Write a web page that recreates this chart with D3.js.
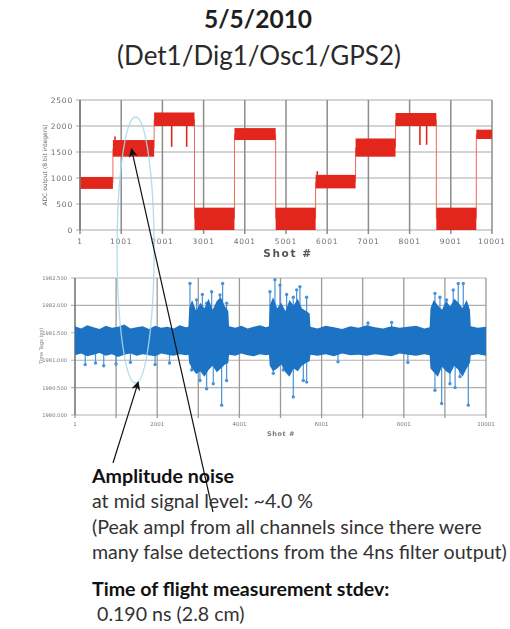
<!DOCTYPE html>
<html>
<head>
<meta charset="utf-8">
<script src="https://cdn.jsdelivr.net/npm/d3@7"></script>
<style>
  html, body { margin: 0; padding: 0; background: #fff; }
  svg { display: block; }
</style>
</head>
<body>
<svg id="chart" width="510" height="629"></svg>
<script>
// ---------- ADC amplitude per shot (upper panel) ----------
const shotTicks = [1, 1001, 2001, 3001, 4001, 5001, 6001, 7001, 8001, 9001, 10001];
const adcTicks = [0, 500, 1000, 1500, 2000, 2500];
const segStart = [1, 800, 1800, 2780, 3750, 4750, 5720, 6690, 7660, 8650, 9620];
const segEnd   = [800, 1800, 2780, 3750, 4750, 5720, 6690, 7660, 8650, 9620, 10001];
const segLow   = [790, 1410, 2000, 0, 1730, 0, 800, 1410, 2000, 0, 1750];
const segHigh  = [1020, 1730, 2260, 430, 1960, 430, 1060, 1760, 2250, 430, 1930];
const adcSpikeShot  = [850, 2226, 2590, 5760, 8252, 8414];
const adcSpikeValue = [1800, 1600, 1600, 1130, 1635, 1640];

// ---------- Time tags per shot (lower panel) ----------
const tofTicks = [1980.0, 1980.5, 1981.0, 1981.5, 1982.0, 1982.5];
const tofShotLabels = [1, 2001, 4001, 6001, 8001, 10001];
const tofEnvShot = [1,150,300,450,600,750,900,1050,1200,1350,1500,1650,1800,1950,2100,2250,2400,2550,2700,2760,
  2780,2850,2950,3050,3150,3250,3350,3450,3550,3650,3730,
  3750,3900,4050,4200,4350,4500,4650,4720,
  4740,4820,4920,5020,5120,5220,5320,5420,5520,5620,5710,
  5730,5900,6100,6300,6500,6700,6900,7100,7300,7500,7700,7900,8100,8300,8500,8630,
  8650,8730,8830,8930,9030,9130,9230,9330,9430,9530,9610,
  9630,9800,10001];
const tofEnvHigh = [1981.62,1981.58,1981.64,1981.60,1981.57,1981.63,1981.59,1981.61,1981.65,1981.58,1981.60,1981.62,1981.57,1981.63,1981.59,1981.61,1981.58,1981.64,1981.60,1981.61,
  1981.95,1982.10,1981.90,1982.05,1981.95,1982.12,1981.92,1982.08,1982.15,1981.98,1981.90,
  1981.62,1981.59,1981.63,1981.58,1981.61,1981.64,1981.60,1981.62,
  1982.00,1982.15,1981.95,1982.05,1981.90,1982.10,1982.00,1982.12,1981.95,1981.90,1981.85,
  1981.61,1981.58,1981.63,1981.60,1981.57,1981.62,1981.59,1981.64,1981.60,1981.58,1981.62,1981.59,1981.61,1981.63,1981.58,1981.60,
  1981.95,1982.10,1982.00,1981.92,1982.08,1981.98,1982.12,1982.05,1981.95,1982.10,1981.92,
  1981.62,1981.59,1981.61];
const tofEnvLow = [1981.09,1981.12,1981.07,1981.10,1981.13,1981.08,1981.11,1981.06,1981.10,1981.12,1981.08,1981.11,1981.09,1981.07,1981.12,1981.10,1981.08,1981.11,1981.09,1981.10,
  1980.95,1980.85,1980.75,1980.80,1980.70,1980.82,1980.90,1980.78,1980.85,1980.92,1980.95,
  1981.10,1981.08,1981.12,1981.09,1981.07,1981.11,1981.09,1981.10,
  1980.90,1980.80,1980.85,1980.92,1980.78,1980.70,1980.85,1980.80,1980.90,1980.95,1980.98,
  1981.10,1981.08,1981.11,1981.07,1981.12,1981.09,1981.10,1981.08,1981.11,1981.09,1981.07,1981.12,1981.10,1981.08,1981.11,1981.09,
  1980.85,1980.78,1980.70,1980.88,1980.80,1980.75,1980.90,1980.82,1980.70,1980.85,1980.95,
  1981.09,1981.11,1981.08];
const tofSpikeShot = [2798,2960,3204,3326,3528,3593,3690,2839,3041,3204,3365,3569,3690,3100,
  4745,4866,4988,5312,5394,5474,5637,4826,5069,5312,5556,5637,5150,
  8759,8881,9043,9204,9326,9448,8759,8922,9124,9367,9570,9250,
  250,500,700,1000,1350,1950,2300,6400,7129,7705,8100];
const tofSpikeValue = [1982.40,1982.10,1982.04,1982.25,1982.19,1982.40,1982.04,1980.82,1980.63,1980.48,1980.57,1980.18,1980.63,1982.20,
  1982.25,1982.47,1982.37,1982.15,1982.28,1982.34,1982.15,1980.76,1980.82,1980.33,1980.63,1980.60,1982.20,
  1982.22,1982.15,1982.10,1982.28,1982.40,1982.40,1980.45,1980.21,1980.57,1980.70,1980.18,1980.50,
  1980.92,1980.95,1980.90,1980.93,1980.96,1980.92,1980.95,1980.97,1981.68,1981.69,1980.96];
const tofCentre = 1981.36;

const RED = "#e2261f", BLUE = "#1f73c4", BLUE_LIGHT = "#4a93d6";
const svg = d3.select("#chart");
const defs = svg.append("defs");
defs.append("filter").attr("id", "soft").attr("x", "-5%").attr("y", "-5%").attr("width", "110%").attr("height", "110%")
  .append("feGaussianBlur").attr("stdDeviation", 0.55);
defs.append("filter").attr("id", "softer").attr("x", "-20%").attr("y", "-20%").attr("width", "140%").attr("height", "140%")
  .append("feGaussianBlur").attr("stdDeviation", 0.75);
defs.append("marker").attr("id", "head").attr("viewBox", "0 0 10 10")
  .attr("refX", 9).attr("refY", 5).attr("markerWidth", 9).attr("markerHeight", 9)
  .attr("markerUnits", "userSpaceOnUse").attr("orient", "auto")
  .append("path").attr("d", "M0,0 L10,5 L0,10 L3,5 Z").attr("fill", "#111");

// ---------- upper panel ----------
const xTop = d3.scaleLinear().domain([1, 10001]).range([80, 492]);
const yTop = d3.scaleLinear().domain([0, 2500]).range([230, 100]);
const adcPanel = svg.append("g").attr("filter", "url(#soft)");

adcPanel.append("g").selectAll("line").data(adcTicks).join("line")
  .attr("x1", 76).attr("x2", xTop(10001)).attr("y1", d => yTop(d)).attr("y2", d => yTop(d))
  .attr("stroke", "#a9a9a9").attr("stroke-width", 1.2);
adcPanel.append("g").selectAll("line").data(shotTicks).join("line")
  .attr("x1", d => xTop(d)).attr("x2", d => xTop(d)).attr("y1", yTop(2500)).attr("y2", yTop(0) + 4)
  .attr("stroke", "#8c8c8c").attr("stroke-width", 1.5);

// transitions between levels
adcPanel.append("g").selectAll("line").data(d3.range(1, segStart.length)).join("line")
  .attr("x1", i => xTop(segStart[i])).attr("x2", i => xTop(segStart[i]))
  .attr("y1", i => yTop((segLow[i - 1] + segHigh[i - 1]) / 2))
  .attr("y2", i => yTop((segLow[i] + segHigh[i]) / 2))
  .attr("stroke", "#ee6a60").attr("stroke-width", 1);
// level bands
adcPanel.append("g").selectAll("rect").data(d3.range(segStart.length)).join("rect")
  .attr("x", i => xTop(segStart[i])).attr("width", i => xTop(segEnd[i]) - xTop(segStart[i]))
  .attr("y", i => yTop(segHigh[i])).attr("height", i => yTop(segLow[i]) - yTop(segHigh[i]))
  .attr("fill", RED);
// isolated excursions
adcPanel.append("g").selectAll("line").data(d3.range(adcSpikeShot.length)).join("line")
  .attr("x1", i => xTop(adcSpikeShot[i])).attr("x2", i => xTop(adcSpikeShot[i]))
  .attr("y1", i => {
    const s = segStart.findIndex((v, k) => adcSpikeShot[i] >= v && adcSpikeShot[i] < segEnd[k]);
    return yTop(adcSpikeValue[i] > segHigh[s] ? segHigh[s] : segLow[s]);
  })
  .attr("y2", i => yTop(adcSpikeValue[i]))
  .attr("stroke", RED).attr("stroke-width", 1.6);

adcPanel.append("line").attr("x1", 80).attr("x2", 80).attr("y1", 100).attr("y2", 230)
  .attr("stroke", "#7a7a7a").attr("stroke-width", 1.5);

const adcLabels = svg.append("g").attr("filter", "url(#softer)")
  .attr("font-family", "DejaVu Sans, sans-serif").attr("fill", "#6f6f6f");
adcLabels.selectAll("text.y").data(adcTicks).join("text").attr("class", "y")
  .attr("x", 73).attr("y", d => yTop(d) + 3).attr("text-anchor", "end")
  .attr("font-size", 7.5).attr("letter-spacing", 0.8).text(d => d);
adcLabels.selectAll("text.x").data(shotTicks).join("text").attr("class", "x")
  .attr("x", d => xTop(d)).attr("y", 244).attr("text-anchor", "middle")
  .attr("font-size", 7.5).attr("letter-spacing", 0.8).text(d => d);
adcLabels.append("text").attr("x", 288).attr("y", 257).attr("text-anchor", "middle")
  .attr("font-size", 10.5).attr("font-weight", "bold").attr("letter-spacing", 1.6)
  .attr("fill", "#555").text("Shot #");
adcLabels.append("text").attr("transform", "translate(47,165) rotate(-90)")
  .attr("text-anchor", "middle").attr("font-size", 6).attr("fill", "#666")
  .text("ADC output (8 bit integers)");

// ---------- lower panel ----------
const xBot = d3.scaleLinear().domain([1, 10001]).range([75, 486]);
const yBot = d3.scaleLinear().domain([1980.0, 1982.5]).range([415, 278]);
const tofPanel = svg.append("g").attr("filter", "url(#soft)");

tofPanel.append("g").selectAll("line").data(tofTicks).join("line")
  .attr("x1", 71).attr("x2", xBot(10001)).attr("y1", d => yBot(d)).attr("y2", d => yBot(d))
  .attr("stroke", "#b0b0b0").attr("stroke-width", 1.1);
tofPanel.append("g").selectAll("line").data(shotTicks).join("line")
  .attr("x1", d => xBot(d)).attr("x2", d => xBot(d)).attr("y1", yBot(1982.5)).attr("y2", yBot(1980) + 3)
  .attr("stroke", "#9a9a9a").attr("stroke-width", 1.3);
tofPanel.append("line").attr("x1", 75).attr("x2", 75).attr("y1", 278).attr("y2", 415)
  .attr("stroke", "#808080").attr("stroke-width", 1.4);

tofPanel.append("g").selectAll("line").data(d3.range(tofSpikeShot.length)).join("line")
  .attr("x1", i => xBot(tofSpikeShot[i])).attr("x2", i => xBot(tofSpikeShot[i]))
  .attr("y1", yBot(tofCentre)).attr("y2", i => yBot(tofSpikeValue[i]))
  .attr("stroke", BLUE_LIGHT).attr("stroke-width", 1.2);
tofPanel.append("g").selectAll("circle").data(d3.range(tofSpikeShot.length)).join("circle")
  .attr("cx", i => xBot(tofSpikeShot[i])).attr("cy", i => yBot(tofSpikeValue[i]))
  .attr("r", 1.7).attr("fill", BLUE_LIGHT);

const band = d3.area()
  .x(i => xBot(tofEnvShot[i]))
  .y0(i => yBot(tofEnvLow[i]))
  .y1(i => yBot(tofEnvHigh[i]));
tofPanel.append("path").datum(d3.range(tofEnvShot.length)).attr("d", band).attr("fill", BLUE);

const tofLabels = svg.append("g").attr("filter", "url(#softer)")
  .attr("font-family", "DejaVu Sans, sans-serif").attr("fill", "#7a7a7a");
tofLabels.selectAll("text.y").data(tofTicks).join("text").attr("class", "y")
  .attr("x", 67).attr("y", d => yBot(d) + 2).attr("text-anchor", "end")
  .attr("font-size", 5.2).text(d => d3.format(".3f")(d));
tofLabels.selectAll("text.x").data(tofShotLabels).join("text").attr("class", "x")
  .attr("x", d => xBot(d)).attr("y", 426).attr("text-anchor", "middle")
  .attr("font-size", 5.5).text(d => d);
tofLabels.append("text").attr("x", 281).attr("y", 436).attr("text-anchor", "middle")
  .attr("font-size", 6.5).attr("font-weight", "bold").attr("letter-spacing", 0.6).text("Shot #");
tofLabels.append("text").attr("transform", "translate(43,346) rotate(-90)")
  .attr("text-anchor", "middle").attr("font-size", 5).text("Time Tags (ns)");

// ---------- highlight and callouts ----------
svg.append("ellipse").attr("cx", xTop(1350)).attr("cy", 250).attr("rx", 18.5).attr("ry", 133)
  .attr("fill", "none").attr("stroke", "#a6d9ea").attr("stroke-width", 1.3).attr("opacity", 0.9);
svg.append("line").attr("x1", 213).attr("y1", 512).attr("x2", xTop(1250)).attr("y2", yTop(1560))
  .attr("stroke", "#111").attr("stroke-width", 1.2).attr("marker-end", "url(#head)");
svg.append("line").attr("x1", 113).attr("y1", 463).attr("x2", xBot(1540)).attr("y2", yBot(1980.6))
  .attr("stroke", "#111").attr("stroke-width", 1.2).attr("marker-end", "url(#head)");

// ---------- titles and notes ----------
const txt = svg.append("g").attr("font-family", "Lato, sans-serif").attr("fill", "#1e1e1e");
txt.append("text").attr("x", 258).attr("y", 28).attr("text-anchor", "middle")
  .attr("font-size", 24.5).attr("font-weight", "bold").text("5/5/2010");
txt.append("text").attr("x", 259).attr("y", 65).attr("text-anchor", "middle")
  .attr("font-size", 26).attr("fill", "#2a2a2a").text("(Det1/Dig1/Osc1/GPS2)");

const notes = [
  { t: "Amplitude noise", y: 483, b: true },
  { t: "at mid signal level: ~4.0 %", y: 508, b: false },
  { t: "(Peak ampl from all channels since there were", y: 534, b: false },
  { t: "many false detections from the 4ns filter output)", y: 559, b: false },
  { t: "Time of flight measurement stdev:", y: 596, b: true },
  { t: " 0.190 ns (2.8 cm)", y: 621, b: false }
];
txt.selectAll("text.note").data(notes).join("text").attr("class", "note")
  .attr("x", 92).attr("y", d => d.y).attr("font-size", 19.6)
  .attr("font-weight", d => d.b ? "bold" : "normal")
  .attr("fill", d => d.b ? "#111" : "#333")
  .attr("xml:space", "preserve").style("white-space", "pre")
  .text(d => d.t);
</script>
</body>
</html>
